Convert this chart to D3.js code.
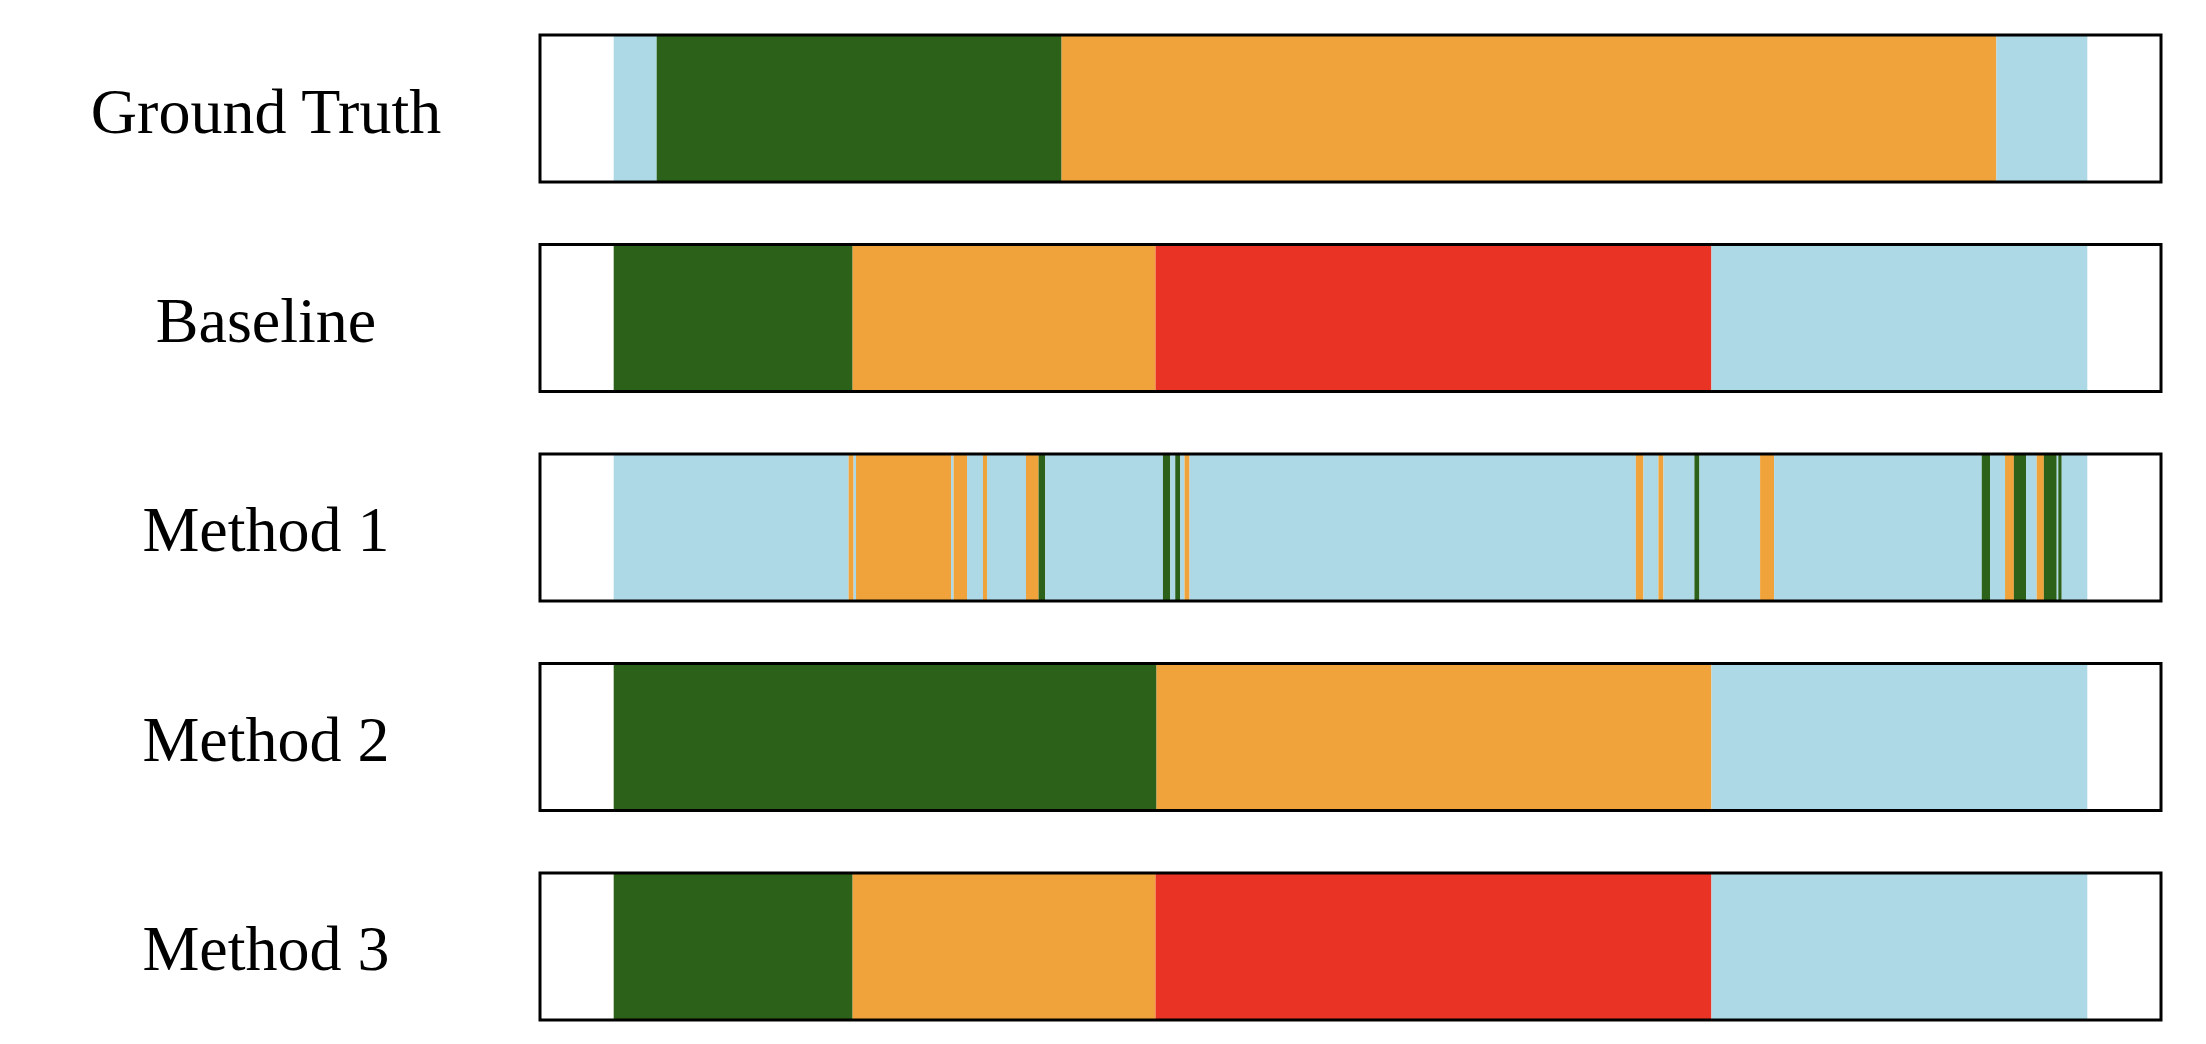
<!DOCTYPE html>
<html>
<head>
<meta charset="utf-8">
<script src="https://cdn.jsdelivr.net/npm/d3@7"></script>
<style>
  html, body { margin: 0; padding: 0; background: #ffffff; }
  svg { display: block; }
</style>
</head>
<body>
<svg id="chart" width="2206" height="1044"></svg>
<script>
// ---------------- data ----------------
const rowLabels = ["Ground Truth", "Baseline", "Method 1", "Method 2", "Method 3"];
const classNames = ["background", "class A", "class B", "class C"];
const classColors = ["#add8e6", "#2c6119", "#f0a33a", "#e93325"];
const totalFrames = 1474;

// segments: [startFrame, endFrame, classIndex]
const groundTruth = [[0, 43, 0], [43, 448, 1], [448, 1383, 2], [1383, 1474, 0]];
const baseline    = [[0, 239, 1], [239, 542, 2], [542, 1098, 3], [1098, 1474, 0]];
const method1 = [
  [0, 235, 0], [235, 240, 2], [240, 242.4, 0], [242.4, 337.4, 2], [337.4, 340, 0],
  [340, 353.4, 2], [353.4, 369.4, 0], [369.4, 373.4, 2], [373.4, 412.4, 0],
  [412.4, 425, 2], [425, 431.7, 1], [431.7, 549.4, 0], [549.4, 556.7, 1],
  [556.7, 561.7, 0], [561.7, 566.7, 1], [566.7, 571, 0], [571, 576, 2],
  [576, 1022.4, 0], [1022.4, 1030, 2], [1030, 1045, 0], [1045, 1050, 2],
  [1050, 1081, 0], [1081, 1086, 1], [1086, 1146.7, 0], [1146.7, 1160.7, 2],
  [1160.7, 1368.4, 0], [1368.4, 1376.7, 1], [1376.7, 1391.7, 0], [1391.7, 1400.5, 2],
  [1400.5, 1412.7, 1], [1412.7, 1423.4, 0], [1423.4, 1430.5, 2], [1430.5, 1443.4, 1],
  [1443.4, 1445, 0], [1445, 1448.4, 1], [1448.4, 1474, 0]
];
const method2 = [[0, 543, 1], [543, 1098, 2], [1098, 1474, 0]];
const method3 = [[0, 239, 1], [239, 542, 2], [542, 1098, 3], [1098, 1474, 0]];
const rowSegments = [groundTruth, baseline, method1, method2, method3];

// ---------------- layout ----------------
const svg = d3.select("#chart");
const margin = 0.05; // axis margin around the data range

const x = d3.scaleLinear()
  .domain([-margin * totalFrames, (1 + margin) * totalFrames])
  .range([540, 2161]);

const y = d3.scaleBand()
  .domain(rowLabels)
  .range([35, 1020])
  .paddingInner(0.2983)
  .paddingOuter(0);

const color = d3.scaleOrdinal().domain(d3.range(classNames.length)).range(classColors);

const rows = svg.selectAll("g.row")
  .data(rowLabels.map((label, i) => ({ label, segs: rowSegments[i] })))
  .join("g")
  .attr("class", "row")
  .attr("transform", d => `translate(0,${y(d.label)})`);

rows.selectAll("rect.seg")
  .data(d => d.segs)
  .join("rect")
  .attr("class", "seg")
  .attr("x", d => x(d[0]))
  .attr("width", d => Math.max(0.5, x(d[1]) - x(d[0])))
  .attr("y", 0)
  .attr("height", y.bandwidth())
  .attr("fill", d => color(d[2]));

rows.append("rect")
  .attr("class", "frame")
  .attr("x", x.range()[0])
  .attr("width", x.range()[1] - x.range()[0])
  .attr("y", 0)
  .attr("height", y.bandwidth())
  .attr("fill", "none")
  .attr("stroke", "#000")
  .attr("stroke-width", 3);

rows.append("text")
  .attr("x", 266)
  .attr("y", y.bandwidth() / 2 + 24)
  .attr("text-anchor", "middle")
  .attr("font-family", "'Liberation Serif', 'Times New Roman', Times, serif")
  .attr("font-size", 64)
  .attr("fill", "#000")
  .text(d => d.label);
</script>
</body>
</html>
